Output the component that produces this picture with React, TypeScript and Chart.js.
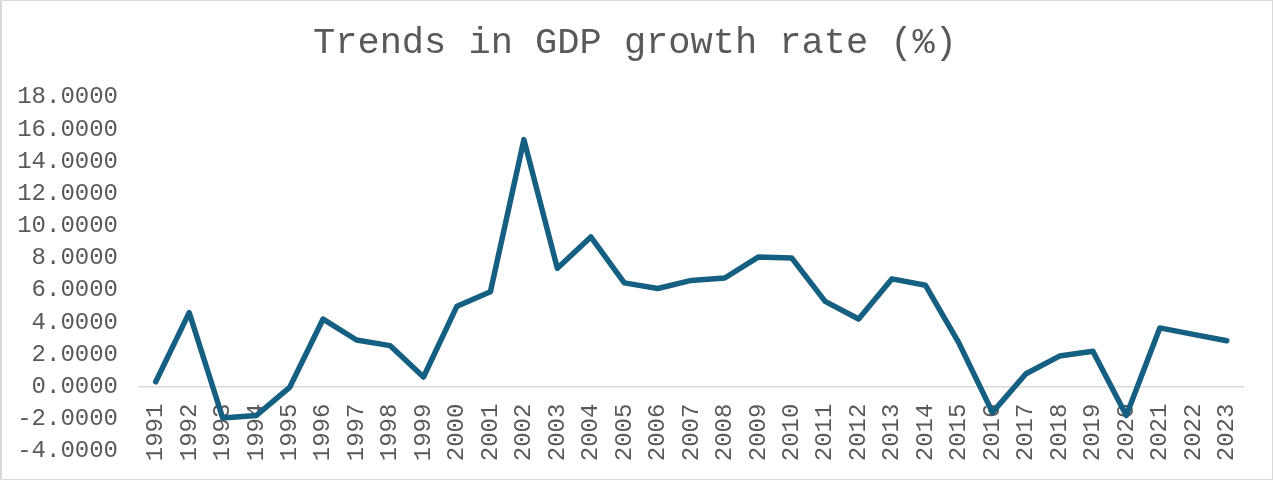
import React, { useEffect, useRef } from "react";
import { Chart, registerables } from "chart.js";

Chart.register(...registerables);

const years: string[] = [
  "1991", "1992", "1993", "1994", "1995", "1996", "1997", "1998", "1999", "2000",
  "2001", "2002", "2003", "2004", "2005", "2006", "2007", "2008", "2009", "2010",
  "2011", "2012", "2013", "2014", "2015", "2016", "2017", "2018", "2019", "2020",
  "2021", "2022", "2023",
];

const gdpGrowth: number[] = [
  0.3, 4.6, -1.95, -1.8, -0.05, 4.2, 2.9, 2.55, 0.6, 5.0,
  5.9, 15.35, 7.35, 9.3, 6.45, 6.1, 6.6, 6.75, 8.05, 8.0,
  5.3, 4.2, 6.7, 6.3, 2.7, -1.6, 0.8, 1.9, 2.2, -1.8,
  3.65, 3.25, 2.85,
];

const yMin = -4;
const yMax = 18;
const yStep = 2;

const titleText = "Trends in GDP growth rate (%)";

const FONT = "'Liberation Mono', 'Courier New', monospace";
const TEXT = "#595959";

export default function App() {
  const ref = useRef<HTMLCanvasElement | null>(null);

  useEffect(() => {
    const prevMargin = document.body.style.margin;
    document.body.style.margin = "0";
    const canvas = ref.current;
    if (!canvas) return;
    const chart = new Chart(canvas, {
      type: "line",
      data: {
        labels: years,
        datasets: [
          {
            data: gdpGrowth,
            yAxisID: "y",
            borderColor: "#156082",
            backgroundColor: "#156082",
            borderWidth: 5.5,
            borderJoinStyle: "round",
            borderCapStyle: "round",
            pointRadius: 0,
            tension: 0,
          },
        ],
      },
      options: {
        responsive: false,
        animation: false,
        devicePixelRatio: 1,
        layout: { padding: { left: 0, right: 3, top: 0, bottom: 30 } },
        plugins: {
          legend: { display: false },
          tooltip: { enabled: false },
          title: {
            display: true,
            text: titleText,
            color: TEXT,
            font: { family: FONT, size: 37, weight: "normal", lineHeight: 1.2 },
            padding: { top: 21, bottom: 31.6 },
          },
        },
        scales: {
          x: {
            type: "category",
            offset: true,
            position: { y: 0 } as any,
            grid: { display: false, drawTicks: false },
            border: { display: true, color: "#d9d9d9", width: 1.5 },
            afterFit: (s: any) => {
              s.paddingTop = 0;
              s.paddingBottom = 0;
            },
            ticks: {
              autoSkip: false,
              minRotation: 90,
              maxRotation: 90,
              padding: 17,
              color: TEXT,
              font: { family: FONT, size: 24 },
            },
          },
          y: {
            min: yMin,
            max: yMax,
            position: "left",
            grid: { display: false, drawTicks: false },
            border: { display: false },
            afterFit: (s: any) => {
              s.width = 139;
              s.paddingTop = 0;
              s.paddingBottom = 0;
            },
            ticks: {
              stepSize: yStep,
              padding: 21,
              color: TEXT,
              font: { family: FONT, size: 24 },
              callback: (v: any) => Number(v).toFixed(4),
            },
          },
          ySpacer: {
            type: "linear",
            position: "right",
            min: yMin,
            max: yMax,
            grid: { display: false, drawTicks: false },
            border: { display: false },
            ticks: { display: false },
            afterFit: (s: any) => {
              s.width = 26;
              s.paddingTop = 0;
              s.paddingBottom = 0;
            },
          },
        } as any,
      },
    });
    return () => {
      chart.destroy();
      document.body.style.margin = prevMargin;
    };
  }, []);

  return (
    <div style={{ position: "relative", width: 1273, height: 481, background: "#fff" }}>
      <canvas ref={ref} width={1273} height={481} style={{ display: "block" }} />
      <div
        style={{
          position: "absolute",
          left: 0,
          top: 0,
          width: 1273,
          height: 480,
          boxSizing: "border-box",
          borderLeft: "2px solid #d9d9d9",
          borderTop: "1px solid #d9d9d9",
          borderBottom: "1px solid #d9d9d9",
          borderRight: "1px solid #d9d9d9",
          pointerEvents: "none",
        }}
      />
    </div>
  );
}
